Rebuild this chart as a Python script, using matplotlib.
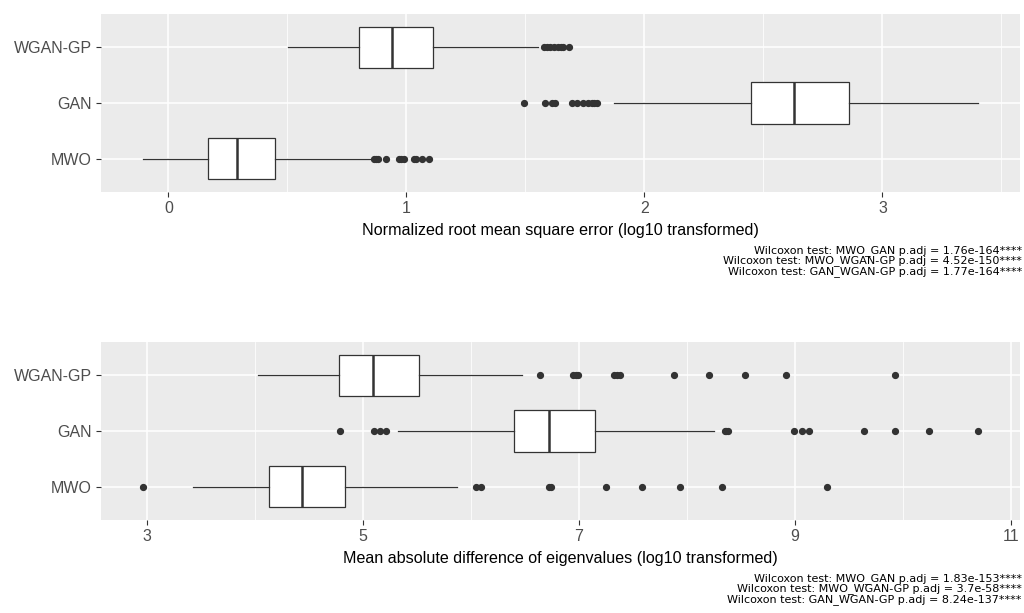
import numpy as np
import matplotlib.pyplot as plt

plt.rcParams['font.family'] = ['Liberation Sans', 'DejaVu Sans']

groups = ['MWO', 'GAN', 'WGAN-GP']

# NRMSE (log10) box summaries: whisker low, Q1, median, Q3, whisker high
nrmse_stats = {
    'MWO':     [-0.105, 0.167, 0.287, 0.448, 0.855],
    'GAN':     [1.873, 2.447, 2.629, 2.859, 3.403],
    'WGAN-GP': [0.503, 0.799, 0.941, 1.111, 1.555],
}
nrmse_outliers = {
    'MWO':     [0.862, 0.872, 0.880, 0.913, 0.968, 0.978, 0.988, 1.030, 1.040, 1.065, 1.093],
    'GAN':     [1.494, 1.583, 1.612, 1.625, 1.695, 1.718, 1.740, 1.765, 1.778, 1.790, 1.800],
    'WGAN-GP': [1.578, 1.590, 1.605, 1.620, 1.635, 1.650, 1.660, 1.684],
}

# Eigenvalue MAD (log10) box summaries
eigen_stats = {
    'MWO':     [3.426, 4.124, 4.435, 4.833, 5.865],
    'GAN':     [5.325, 6.395, 6.722, 7.152, 8.250],
    'WGAN-GP': [4.025, 4.772, 5.087, 5.519, 6.476],
}
eigen_outliers = {
    'MWO':     [2.963, 6.050, 6.096, 6.722, 6.744, 7.254, 7.584, 7.940, 8.326, 9.300],
    'GAN':     [4.784, 5.100, 5.155, 5.210, 8.349, 8.365, 8.377, 8.994, 9.062, 9.130,
                9.640, 9.930, 10.247, 10.700],
    'WGAN-GP': [6.636, 6.945, 6.970, 6.990, 7.320, 7.350, 7.377, 7.880, 8.200,
                8.537, 8.920, 9.930],
}

nrmse_ticks = [0, 1, 2, 3]
eigen_ticks = [3, 5, 7, 9, 11]

nrmse_tests = [
    'Wilcoxon test: MWO_GAN p.adj = 1.76e-164****',
    'Wilcoxon test: MWO_WGAN-GP p.adj = 4.52e-150****',
    'Wilcoxon test: GAN_WGAN-GP p.adj = 1.77e-164****',
]
eigen_tests = [
    'Wilcoxon test: MWO_GAN p.adj = 1.83e-153****',
    'Wilcoxon test: MWO_WGAN-GP p.adj = 3.7e-58****',
    'Wilcoxon test: GAN_WGAN-GP p.adj = 8.24e-137****',
]

W, H = 1024, 613
fig = plt.figure(figsize=(W / 100, H / 100), dpi=100)


def panel(top_px, stats, outliers, ticks, minor, xlim, xlabel, tests):
    ax = fig.add_axes([101 / W, (H - top_px - 178) / H, 919 / W, 178 / H])
    ax.set_facecolor('#EBEBEB')
    bstats = []
    for g in groups:
        lo, q1, med, q3, hi = stats[g]
        bstats.append(dict(whislo=lo, q1=q1, med=med, q3=q3, whishi=hi,
                           fliers=outliers[g], label=g))
    ax.bxp(bstats, positions=[1, 2, 3], widths=0.75, vert=False,
           patch_artist=True, showcaps=False,
           boxprops=dict(facecolor='white', edgecolor='#333333', linewidth=0.9),
           medianprops=dict(color='#333333', linewidth=1.8),
           whiskerprops=dict(color='#333333', linewidth=0.9),
           flierprops=dict(marker='o', markerfacecolor='#333333',
                           markeredgecolor='#333333', markersize=4.2))
    ax.set_ylim(0.4, 3.6)
    ax.set_xlim(*xlim)
    ax.set_xticks(ticks)
    ax.set_xticks(minor, minor=True)
    ax.set_yticks([1, 2, 3])
    ax.set_yticklabels(groups)
    ax.grid(True, which='major', color='white', linewidth=1.1)
    ax.grid(True, which='minor', color='white', linewidth=0.55)
    ax.set_axisbelow(True)
    for s in ax.spines.values():
        s.set_visible(False)
    ax.tick_params(which='major', length=3.5, width=0.8, color='#333333',
                   labelcolor='#4D4D4D', labelsize=11.5, pad=3.2)
    ax.tick_params(which='minor', length=0)
    ax.set_xlabel(xlabel, fontsize=11.6, color='black', labelpad=5)
    for i, t in enumerate(tests):
        ax.text(1.002, -0.328 - i * 0.059, t, transform=ax.transAxes,
                ha='right', va='center', fontsize=8.0, color='black',
                family='DejaVu Sans')
    return ax


panel(14, nrmse_stats, nrmse_outliers, nrmse_ticks, [0.5, 1.5, 2.5, 3.5],
      (-0.283, 3.578), 'Normalized root mean square error (log10 transformed)',
      nrmse_tests)
panel(342, eigen_stats, eigen_outliers, eigen_ticks, [4, 6, 8, 10],
      (2.571, 11.086), 'Mean absolute difference of eigenvalues (log10 transformed)',
      eigen_tests)

fig.savefig('out.png', dpi=100)
